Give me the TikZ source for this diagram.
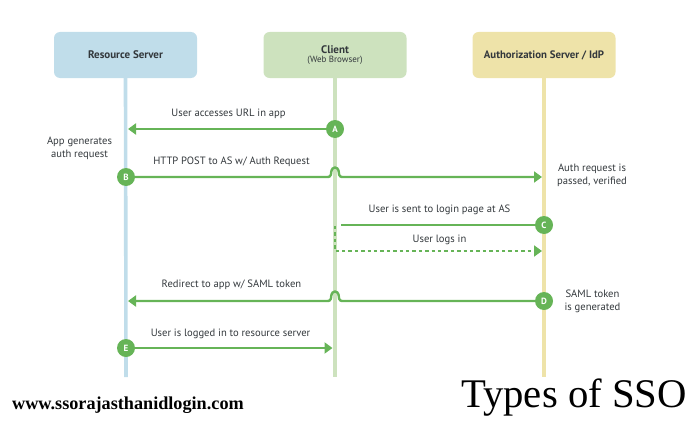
\documentclass[tikz,border=0pt]{standalone}
\usepackage{fontspec}
\setmainfont{PT Sans}
\newfontfamily\titlefont{Liberation Serif}
\usetikzlibrary{arrows.meta,calc}
\definecolor{flow}{HTML}{66B457}
\definecolor{rsfill}{HTML}{C0DDEA}
\definecolor{clfill}{HTML}{CDE2BE}
\definecolor{asfill}{HTML}{EEE3A9}
\definecolor{ink}{HTML}{33383C}
\tikzset{
  party/.style={draw=none,rounded corners=6pt,minimum width=143pt,minimum height=46pt,inner sep=0pt,align=center,text=ink},
  life/.style={line width=3.6pt},
  msg/.style={draw=flow,line width=2.4pt},
  tipped/.style={msg,-{Triangle[length=8pt,width=11pt]}},
  badge/.style={circle,fill=flow,minimum size=18pt,inner sep=0pt,text=white,font=\bfseries\fontsize{9}{10}\selectfont},
  caption/.style={text=ink,font=\fontsize{10.6}{12.6}\selectfont,align=center,inner sep=0pt},
}
\begin{document}
\begin{tikzpicture}[x=1pt,y=-1pt]
\useasboundingbox (0,0) rectangle (700,420);
% column headers
\node[party,fill=rsfill,font=\bfseries\fontsize{11}{13}\selectfont] (rs) at (125.5,55) {Resource Server};
\node[party,fill=clfill] (cl) at (335,55) {{\bfseries\fontsize{11}{13}\selectfont Client}\\[-3pt]{\fontsize{9}{10}\selectfont (Web Browser)}};
\node[party,fill=asfill,font=\bfseries\fontsize{10.8}{13}\selectfont] (as) at (544,55) {Authorization Server / IdP};
% lifelines
\coordinate (rsend) at (126,377);
\coordinate (clend) at (335,377);
\coordinate (asend) at (544,377);
\draw[life,rsfill] (rs.south) -- (rsend);
\draw[life,clfill] (cl.south) -- (clend);
\draw[life,asfill] (as.south) -- (asend);
% step badges
\node[badge] (A) at (335,129) {A};
\node[badge] (B) at (126,177) {B};
\node[badge] (C) at (544,225) {C};
\node[badge] (D) at (544,301) {D};
\node[badge] (E) at (126,348) {E};
% arrow landing points on the lifelines
\coordinate (a1) at (128,129);
\coordinate (b1) at (542,177);
\coordinate (c1) at (341,225);
\coordinate (l0) at (335,226);
\coordinate (l1) at (335,251);
\coordinate (l2) at (542,251);
\coordinate (d1) at (128,301);
\coordinate (e1) at (332.5,348);
% messages
\draw[tipped] (A) -- (a1);
\draw[tipped] (B) -- (328,177) to[out=0,in=-90,looseness=1] (331.5,170.5)
  to[out=90,in=180,looseness=.8] (335,167.5) to[out=0,in=90,looseness=.8] (338.5,170.5)
  to[out=-90,in=180,looseness=1] (342,177) -- (b1);
\draw[msg] (C) -- (c1);
\draw[msg,line width=2.8pt,dash pattern=on 3.4pt off 3pt,-{Triangle[length=8pt,width=11pt]}] (l0) -- (l1) -- (l2);
\draw[tipped] (D) -- (342,301) to[out=180,in=-90,looseness=1] (338.5,294.5)
  to[out=90,in=0,looseness=.8] (335,291.5) to[out=180,in=90,looseness=.8] (331.5,294.5)
  to[out=-90,in=0,looseness=1] (328,301) -- (d1);
\draw[tipped] (E) -- (e1);
% message captions
\node[caption] (t1) at (228.5,114) {User accesses URL in app};
\node[caption] (t2) at (231.5,161.5) {HTTP POST to AS w/ Auth Request};
\node[caption] (t3) at (439.5,210) {User is sent to login page at AS};
\node[caption] (t4) at (439.5,240) {User logs in};
\node[caption] (t5) at (231.5,285) {Redirect to app w/ SAML token};
\node[caption] (t6) at (230.5,333.5) {User is logged in to resource server};
% side notes
\node[caption] (n1) at (79.5,148.5) {App generates\\auth request};
\node[caption] (n2) at (592,175.5) {Auth request is\\passed, verified};
\node[caption] (n3) at (592.5,301.5) {SAML token\\is generated};
% footer
\node[anchor=base west,inner sep=0pt,font=\titlefont\bfseries\fontsize{18.2}{20}\selectfont,text=black] (site) at (12,409) {www.ssorajasthanidlogin.com};
\node[anchor=base west,inner sep=0pt,font=\titlefont\fontsize{40.7}{42}\selectfont,text=black] (title) at (461,407) {Types of SSO};
\end{tikzpicture}
\end{document}
